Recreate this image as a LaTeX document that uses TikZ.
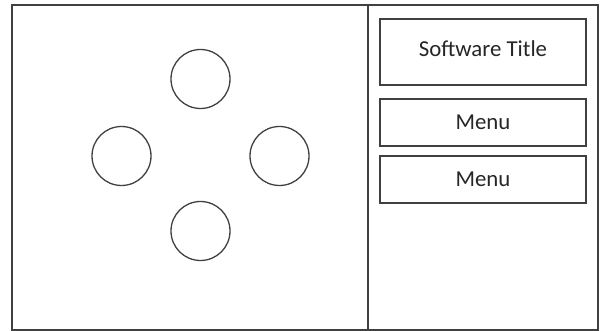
\documentclass[tikz,border=0pt]{standalone}
\usepackage{fontspec}
\setmainfont{Carlito}
\definecolor{edge}{HTML}{404040}
\definecolor{ink}{HTML}{262626}
\tikzset{
  frame/.style={draw=edge, line width=1.8pt},
  divider/.style={draw=edge, line width=1.4pt},
  pad/.style={circle, draw=edge, line width=1.3pt, minimum size=59pt, inner sep=0pt},
  panel/.style={rectangle, draw=edge, line width=1.3pt, minimum width=206pt, inner sep=0pt,
    font=\fontsize{22.8pt}{26pt}\selectfont, text=ink, text height=16pt},
}
\begin{document}
\begin{tikzpicture}[x=1pt,y=-1pt]
\useasboundingbox (0,0) rectangle (603,331);
\fill[white] (0,0) rectangle (603,331);
\draw[frame] (12,5) rectangle (598,330);
\coordinate (dtop) at (368,5);
\coordinate (dbot) at (368,330);
\draw[divider] (dtop) -- (dbot);
\node[pad] (up) at (200.5,79) {};
\node[pad] (left) at (121.5,156) {};
\node[pad] (right) at (279.5,156) {};
\node[pad] (down) at (200.5,231) {};
\node[panel, minimum height=66pt, text depth=6.6pt] (title) at (483,52) {Software Title};
\node[panel, minimum height=47pt, text depth=1.6pt] (menu1) at (483,122.5) {Menu};
\node[panel, minimum height=47pt, text depth=1.6pt] (menu2) at (483,179.5) {Menu};
\end{tikzpicture}
\end{document}
